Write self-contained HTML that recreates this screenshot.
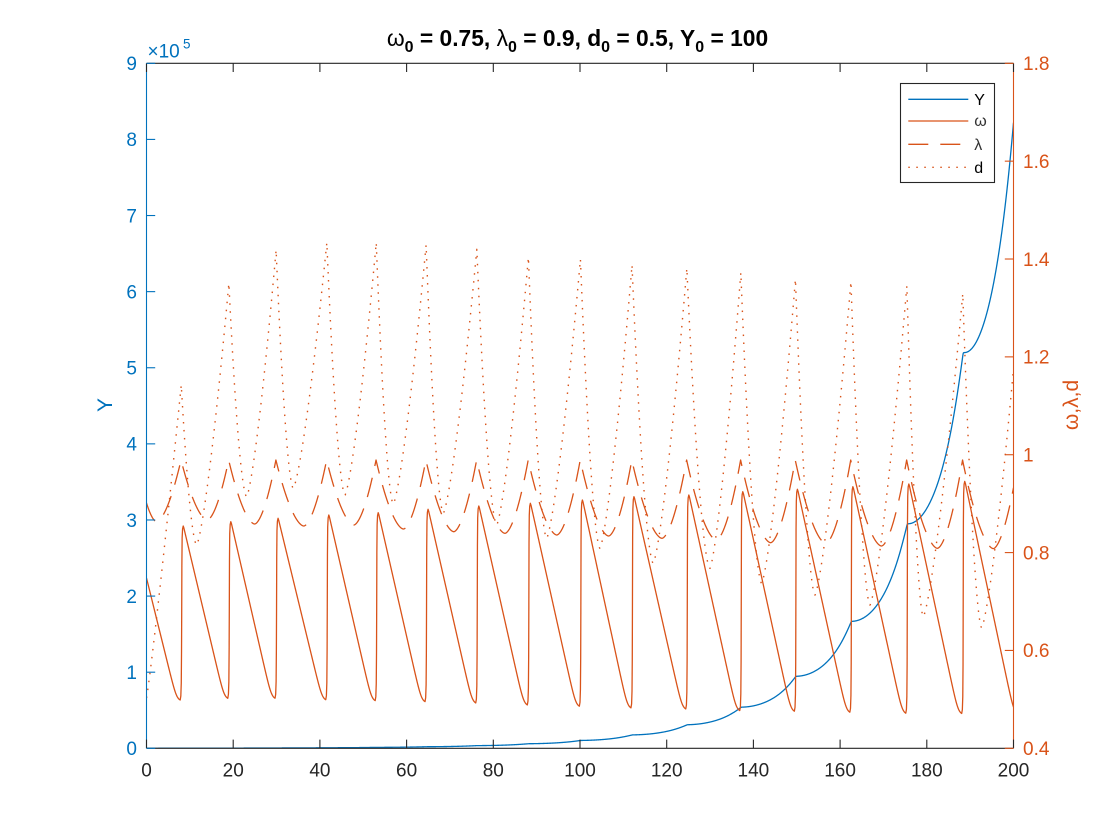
<!DOCTYPE html>
<html>
<head>
<meta charset="utf-8">
<style>
html,body{margin:0;padding:0;background:#fff;}
svg{display:block;}
text{font-family:"Liberation Sans",Arial,sans-serif;}
</style>
</head>
<body>
<svg id="chart" width="1120" height="840" viewBox="0 0 1120 840" xmlns="http://www.w3.org/2000/svg">
<rect x="0" y="0" width="1120" height="840" fill="#ffffff"/>
<defs><clipPath id="pa"><rect x="146.5" y="63.3" width="867" height="685"/></clipPath></defs>

<g id="series" clip-path="url(#pa)" fill="none" stroke-linejoin="round">
<path id="pY" stroke="#0072BD" stroke-width="1.3" d=""/>
<path id="pW" stroke="#D95319" stroke-width="1.3" d=""/>
<path id="pL" stroke="#D95319" stroke-width="1.3" stroke-dasharray="20 12" d=""/>
<path id="pD" stroke="#D95319" stroke-width="1.4" stroke-dasharray="1.5 6.5" d=""/>
</g>

<!-- axes -->
<g id="axes" stroke-width="1.1" fill="none">
<line x1="146.5" y1="63.3" x2="1013.5" y2="63.3" stroke="#262626"/>
<line x1="146.5" y1="748.3" x2="1013.5" y2="748.3" stroke="#262626"/>
<line x1="146.5" y1="63.3" x2="146.5" y2="748.3" stroke="#0072BD"/>
<line x1="1013.5" y1="63.3" x2="1013.5" y2="748.3" stroke="#D95319"/>
</g>
<g id="ticks" stroke-width="1.1"></g>

<!-- tick labels -->
<g font-size="19" fill="#0072BD" text-anchor="end">
<text x="137" y="755.1">0</text>
<text x="137" y="679.0">1</text>
<text x="137" y="602.9">2</text>
<text x="137" y="526.8">3</text>
<text x="137" y="450.7">4</text>
<text x="137" y="374.6">5</text>
<text x="137" y="298.5">6</text>
<text x="137" y="222.4">7</text>
<text x="137" y="146.2">8</text>
<text x="137" y="70.1">9</text>
</g>
<g font-size="19" fill="#D95319" text-anchor="start">
<text x="1023" y="755.1">0.4</text>
<text x="1023" y="657.2">0.6</text>
<text x="1023" y="559.4">0.8</text>
<text x="1023" y="461.5">1</text>
<text x="1023" y="363.7">1.2</text>
<text x="1023" y="265.8">1.4</text>
<text x="1023" y="168.0">1.6</text>
<text x="1023" y="70.1">1.8</text>
</g>
<g font-size="19" fill="#262626" text-anchor="middle">
<text x="146.5" y="776.5">0</text>
<text x="233.2" y="776.5">20</text>
<text x="319.9" y="776.5">40</text>
<text x="406.6" y="776.5">60</text>
<text x="493.3" y="776.5">80</text>
<text x="580" y="776.5">100</text>
<text x="666.7" y="776.5">120</text>
<text x="753.4" y="776.5">140</text>
<text x="840.1" y="776.5">160</text>
<text x="926.8" y="776.5">180</text>
<text x="1013.5" y="776.5">200</text>
</g>

<!-- exponent -->
<text x="147.5" y="57.3" font-size="19" fill="#0072BD">×10</text>
<text x="183" y="48.3" font-size="13.5" fill="#0072BD">5</text>

<!-- axis labels -->
<text transform="translate(112,405) rotate(-90)" text-anchor="middle" font-size="21" fill="#0072BD">Y</text>
<text transform="translate(1078,405) rotate(-90)" text-anchor="middle" font-size="21" fill="#D95319">ω,λ,d</text>

<!-- title -->
<text x="577.5" y="46" text-anchor="middle" font-size="22.8" font-weight="bold" fill="#000" style="white-space:pre"><tspan font-weight="normal">ω</tspan><tspan font-size="16" dy="6">0</tspan><tspan dy="-6"> = 0.75, </tspan><tspan font-weight="normal">λ</tspan><tspan font-size="16" dy="6">0</tspan><tspan dy="-6"> = 0.9, d</tspan><tspan font-size="16" dy="6">0</tspan><tspan dy="-6"> = 0.5, Y</tspan><tspan font-size="16" dy="6">0</tspan><tspan dy="-6"> = 100</tspan></text>

<!-- legend -->
<rect x="900.5" y="83.5" width="94" height="99" fill="#fff" stroke="#262626" stroke-width="1.1"/>
<line x1="908.3" y1="99.3" x2="968.3" y2="99.3" stroke="#0072BD" stroke-width="1.3"/>
<line x1="908.3" y1="121" x2="968.3" y2="121" stroke="#D95319" stroke-width="1.3"/>
<line x1="908.3" y1="144.3" x2="968.3" y2="144.3" stroke="#D95319" stroke-width="1.3" stroke-dasharray="20 12"/>
<line x1="908.3" y1="167.3" x2="968.3" y2="167.3" stroke="#D95319" stroke-width="1.4" stroke-dasharray="1.5 6.5"/>
<g font-size="16" fill="#000">
<text x="974.3" y="105">Y</text>
<text x="974.3" y="126" fill="#333">ω</text>
<text x="974.3" y="150" fill="#333">λ</text>
<text x="974.3" y="173">d</text>
</g>
</svg>

<script>
(function(){
var NS="http://www.w3.org/2000/svg";
var X=function(t){return 146.5+t*4.335;};
function sp(x){return x>30?x:Math.log1p(Math.exp(x));}
// ticks
var tg=document.getElementById("ticks");
function ln(x1,y1,x2,y2,c){var l=document.createElementNS(NS,"line");l.setAttribute("x1",x1);l.setAttribute("y1",y1);l.setAttribute("x2",x2);l.setAttribute("y2",y2);l.setAttribute("stroke",c);tg.appendChild(l);}
for(var i=0;i<=10;i++){var x=X(i*20);ln(x,748.3,x,739.6,"#262626");ln(x,63.3,x,72,"#262626");}
for(var i=0;i<=9;i++){var y=748.3-i*76.11;ln(146.5,y,155.2,y,"#0072BD");}
for(var i=0;i<=7;i++){var y=748.3-i*97.857;ln(1013.5,y,1004.8,y,"#D95319");}

// omega
var T=[8.12,19.1,30.0,41.7,53.1,64.6,76.3,88.2,100.2,112.1,124.75,137.2,149.8,162.6,175.5,188.4,201.3];
var P=[526,521.7,518.3,515,512.7,509.3,506,503.3,500,496.7,495,491.7,489.3,486.7,484,481.4];
var E=[701,699.3,699.3,700.7,701.7,702.7,704,706,707.3,709,710,711.7,712.3,713.3,714.3,714.6,715];
var om=[];
function desc(ta,ya,tb,yE,tend,w){
  var A=(yE-ya)/(w*sp((tb-ta)/w));
  for(var t=ta;t<tend-1e-6;t+=0.05){om.push([t,yE-A*w*sp((tb-t)/w)]);}
  om.push([tend,yE-A*w*sp((tb-tend)/w)]);
}
desc(0,578,T[0]-1.1,E[0],T[0]-0.35,0.4);
for(var j=0;j<16;j++){
  var Tj=T[j],e=E[j],p=P[j];
  om.push([Tj-0.2,e-5],[Tj-0.1,e-18],[Tj-0.04,e-50],[Tj,(e+p)/2],[Tj+0.04,p+40],[Tj+0.1,p+12],[Tj+0.2,p+3],[Tj+0.35,p]);
  var tend=Math.min(T[j+1]-0.35,200);
  desc(Tj+0.5,p+2,T[j+1]-1.1,E[j+1],tend,0.4);
}
// lambda
var C=T.map(function(t){return t-0.15;});
var Lmin=[521.7,520,524,526,525,529,531.7,533.3,535,536,538.3,540,542.7,543.3,546,548.3,548.6];
var Lpk=460,pw=1.7,la=[];
var m0=2.3,t;
for(t=0;t<m0;t+=0.05)la.push([t,Lmin[0]-(Lmin[0]-503)*Math.pow(1-t/m0,pw)]);
for(t=m0;t<C[0];t+=0.05)la.push([t,Lmin[0]-(Lmin[0]-Lpk)*Math.pow((t-m0)/(C[0]-m0),pw)]);
la.push([C[0],Lpk]);
for(var k=1;k<=16;k++){
  var a=C[k-1],b=C[k],m=a+0.55*(b-a),L=Lmin[k];
  for(t=a+0.05;t<=b&&t<=200;t+=0.05){
    var y=(t<=m)?L-(L-Lpk)*Math.pow(1-(t-a)/(m-a),pw):L-(L-Lpk)*Math.pow((t-m)/(b-m),pw);
    la.push([t,y]);
  }
  if(b>200){var tt=200;var yy=(tt<=m)?L-(L-Lpk)*Math.pow(1-(tt-a)/(m-a),pw):L-(L-Lpk)*Math.pow((tt-m)/(b-m),pw);la.push([200,yy]);break;}
  la.push([b,Lpk]);
}
// d
var Dt=T.map(function(t){return t-0.1;});Dt[16]=201.2;
var Dp=[385,283.3,250,242.7,242.7,245,249.3,257.3,259.3,265,268.3,272.7,279.3,281.7,286,293.7,310];
var Dm=[[196.7,545],[246.7,496.7],[293.3,488.3],[345,495],[393.3,504],[443.3,513.3],[496.7,525],[546.7,538.3],[600,548.3],[653.3,563.3],[710,568.3],[761.7,583.3],[815,595],[870,605],[923.3,616.7],[981.7,627.7]].map(function(q){return [(q[0]-146.5)/4.335,q[1]];});
var dd=[];
for(t=0;t<Dt[0];t+=0.05)dd.push([t,698-(698-Dp[0])*Math.pow(t/Dt[0],1.1)]);
dd.push([Dt[0],Dp[0]]);
for(var j=0;j<16;j++){
  (function(j){
  var a=Dt[j],m=Dm[j][0],b=Dt[j+1],L=Dm[j][1];
  var f=function(tt){return (tt<=m)?L-(L-Dp[j])*Math.pow(1-(tt-a)/(m-a),1.7):L-(L-Dp[j+1])*Math.pow((tt-m)/(b-m),1.35);};
  for(var t2=a+0.05;t2<b&&t2<=200;t2+=0.05)dd.push([t2,f(t2)]);
  if(b>200){dd.push([200,f(200)]);}
  else dd.push([b,Dp[j+1]]);
  })(j);
  if(Dt[j+1]>200)break;
}
// Y
var v=function(y){return 1.8-(y-63.3)*1.4/685;};
var S=0,cum=[0];
function gf(p){return Math.max(0,0.95-v(p[1]))*(1+0.00025*(p[0]-100));}
for(var i=1;i<om.length;i++){
  var dt=om[i][0]-om[i-1][0];
  var g=(gf(om[i])+gf(om[i-1]))/2;
  S+=g*dt;cum.push(S);
}
var kk=Math.log(8.22e5/100)/S;
var yy=om.map(function(p,i){return [p[0],748.3-100*Math.exp(kk*cum[i])/1e5*76.11];});

function path(arr){
  var s="";
  for(var i=0;i<arr.length;i++){s+=(i?"L":"M")+X(arr[i][0]).toFixed(2)+" "+arr[i][1].toFixed(2);}
  return s;
}
document.getElementById("pW").setAttribute("d",path(om));
document.getElementById("pL").setAttribute("d",path(la));
document.getElementById("pD").setAttribute("d",path(dd));
document.getElementById("pY").setAttribute("d",path(yy));
})();
</script>
</body>
</html>
